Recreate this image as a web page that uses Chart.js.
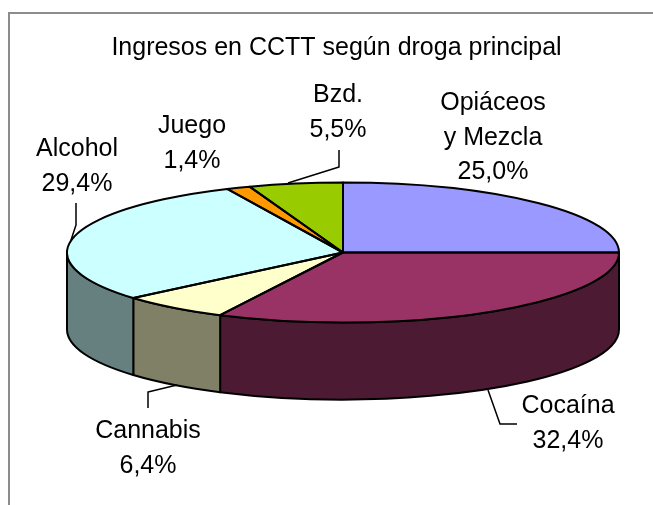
<!DOCTYPE html>
<html>
<head>
<meta charset="utf-8">
<title>Ingresos en CCTT</title>
<script src="https://cdn.jsdelivr.net/npm/chart.js@4"></script>
<style>
    html, body { margin: 0; padding: 0; background: #fff; overflow: hidden; }
    canvas { display: block; }
</style>
</head>
<body>
<canvas id="pie-chart" width="653" height="505"></canvas>
<script>
const chartTitle = 'Ingresos en CCTT según droga principal';
const categories = [['Opiáceos', 'y Mezcla'], ['Cocaína'], ['Cannabis'], ['Alcohol'], ['Juego'], ['Bzd.']];
const shares = [25.0, 32.4, 6.4, 29.4, 1.4, 5.5];
const topColors = ['#9999FF', '#993366', '#FFFFCC', '#CCFFFF', '#FF9900', '#99CC00'];
const wallColors = ['#4D4D80', '#4D1A33', '#808066', '#668080', '#804D00', '#4D6600'];

// where each label sits, and the leader line going to the pie (none for Opiáceos, Juego)
const labelSpots = [
    { x: 493, y: 110 },
    { x: 568, y: 413, leader: [[517, 424], [500, 424], [488, 390]] },
    { x: 148, y: 438, leader: [[148, 408], [148, 392], [177, 385]] },
    { x: 77, y: 156, leader: [[76, 203], [76, 225], [71, 240]] },
    { x: 192, y: 133 },
    { x: 338, y: 102, leader: [[339, 150], [339, 167], [288, 183]] },
];

// the flat pie is squashed into an ellipse and given a side wall
const pie = { cx: 343, cy: 252.5, rx: 276, ry: 70, depth: 77 };
const FONT = '"Liberation Sans", Arial, sans-serif';

function arcPath(ctx, arc) {
    ctx.beginPath();
    ctx.moveTo(pie.cx, pie.cy);
    ctx.ellipse(pie.cx, pie.cy, pie.rx, pie.ry, 0, arc.startAngle, arc.endAngle);
    ctx.closePath();
}

const pie3d = {
    id: 'pie3d',
    beforeDraw(chart) {
        // frame runs off the right and bottom of the picture
        const ctx = chart.ctx;
        ctx.save();
        ctx.strokeStyle = '#8C8C8C';
        ctx.lineWidth = 2;
        ctx.strokeRect(9, 13, 700, 600);
        ctx.restore();
    },
    beforeDatasetsDraw(chart) {
        const ctx = chart.ctx;
        const arcs = chart.getDatasetMeta(0).data;
        ctx.save();
        ctx.lineWidth = 2;
        ctx.strokeStyle = '#000';
        ctx.lineJoin = 'round';
        arcs.forEach(function (arc, i) {
            // only the part of the slice facing the viewer has a wall
            const from = Math.max(arc.startAngle, 0);
            const to = Math.min(arc.endAngle, Math.PI);
            if (to <= from) return;
            ctx.beginPath();
            ctx.ellipse(pie.cx, pie.cy, pie.rx, pie.ry, 0, from, to);
            ctx.ellipse(pie.cx, pie.cy + pie.depth, pie.rx, pie.ry, 0, to, from, true);
            ctx.closePath();
            ctx.fillStyle = wallColors[i];
            ctx.fill();
            ctx.stroke();
        });
        const first = arcs[0];
        ctx.translate(pie.cx, pie.cy);
        ctx.scale(1, pie.ry / pie.rx);
        ctx.translate(-first.x, -first.y);
    },
    afterDatasetsDraw(chart) {
        const ctx = chart.ctx;
        ctx.restore();
        ctx.save();
        ctx.lineWidth = 2;
        ctx.strokeStyle = '#000';
        ctx.lineJoin = 'round';
        chart.getDatasetMeta(0).data.forEach(function (arc) {
            arcPath(ctx, arc);
            ctx.stroke();
        });

        ctx.lineWidth = 1.5;
        ctx.fillStyle = '#000';
        ctx.font = '25px ' + FONT;
        ctx.textAlign = 'center';
        ctx.textBaseline = 'alphabetic';
        categories.forEach(function (lines, i) {
            const spot = labelSpots[i];
            const text = lines.concat(shares[i].toFixed(1).replace('.', ',') + '%');
            text.forEach(function (line, n) {
                ctx.fillText(line, spot.x, spot.y + n * 34.5);
            });
            if (spot.leader) {
                ctx.beginPath();
                spot.leader.forEach(function (p, n) {
                    if (n === 0) ctx.moveTo(p[0], p[1]);
                    else ctx.lineTo(p[0], p[1]);
                });
                ctx.stroke();
            }
        });
        ctx.restore();
    },
};

new Chart(document.getElementById('pie-chart'), {
    type: 'pie',
    data: {
        labels: categories.map(function (lines) { return lines.join(' '); }),
        datasets: [{
            data: shares,
            backgroundColor: topColors,
            borderWidth: 0,
            clip: false,
        }],
    },
    options: {
        responsive: false,
        animation: false,
        radius: pie.rx,
        layout: { padding: { left: 20 } },
        plugins: {
            legend: { display: false },
            tooltip: { enabled: false },
            title: {
                display: true,
                text: chartTitle,
                color: '#000',
                font: { family: FONT, size: 25, weight: 'normal' },
                padding: { top: 33, bottom: 0 },
            },
        },
    },
    plugins: [pie3d],
});
</script>
</body>
</html>
